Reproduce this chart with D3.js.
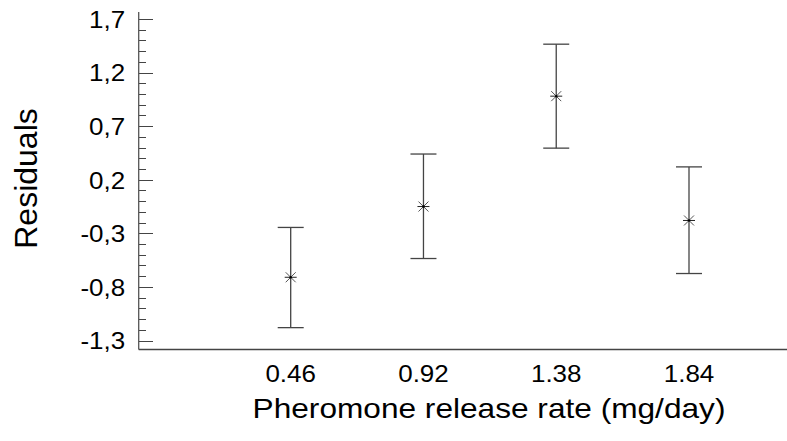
<!DOCTYPE html>
<html>
<head>
<meta charset="utf-8">
<script src="https://cdn.jsdelivr.net/npm/d3@7/dist/d3.min.js"></script>
<style>
  html, body { margin: 0; padding: 0; background: #fff; }
  svg { display: block; font-family: "Liberation Sans", Arial, sans-serif; }
</style>
</head>
<body>
<svg id="chart" width="787" height="441"></svg>
<script>
// Release rates (mg/day) and residual means with their error-bar limits
const rates = [0.46, 0.92, 1.38, 1.84];
const residualMean = [-0.71, -0.05, 0.98, -0.18];
const residualLow = [-1.18, -0.535, 0.495, -0.675];
const residualHigh = [-0.245, 0.44, 1.465, 0.32];
const yMajorTicks = [-1.3, -0.8, -0.3, 0.2, 0.7, 1.2, 1.7];
const yTickLabels = ["-1,3", "-0,8", "-0,3", "0,2", "0,7", "1,2", "1,7"];
const xTickLabels = ["0.46", "0.92", "1.38", "1.84"];

const svg = d3.select("#chart");
const textStretch = 1.13;

const x = d3.scaleLinear().domain([0.46, 1.84]).range([290.7, 689]);
const y = d3.scaleLinear().domain([-1.3, 1.7]).range([340.5, 19]);

const axisLeftX = 138.7;
const axisBottomY = 349.5;

// minor ticks every 0.1
const minorTicks = d3.range(-13, 18).map(i => +(i / 10).toFixed(1))
  .filter(v => !yMajorTicks.some(m => Math.abs(m - v) < 1e-9));

const gy = svg.append("g").attr("transform", `translate(${axisLeftX},0)`);
gy.append("g")
  .call(d3.axisLeft(y).tickValues(minorTicks).tickSizeInner(-7).tickSizeOuter(0).tickFormat(""))
  .call(g => g.select(".domain").remove());
const major = gy.append("g")
  .call(d3.axisLeft(y).tickValues(yMajorTicks).tickSizeInner(-14).tickSizeOuter(0)
    .tickFormat((d, i) => yTickLabels[i]))
  .call(g => g.select(".domain").remove());
gy.selectAll(".tick line").attr("stroke", "#444").attr("shape-rendering", "crispEdges");
major.selectAll(".tick text")
  .attr("x", null).attr("dy", null)
  .attr("transform", `translate(-13.5,8.3) scale(${textStretch},1)`)
  .attr("text-anchor", "end")
  .attr("font-size", 23)
  .attr("font-family", "Liberation Sans, Arial, sans-serif")
  .attr("fill", "#000");

// axis lines
svg.append("line")
  .attr("x1", axisLeftX).attr("x2", axisLeftX)
  .attr("y1", 12).attr("y2", axisBottomY)
  .attr("stroke", "#555").attr("stroke-width", 1.3);
svg.append("line")
  .attr("x1", axisLeftX).attr("x2", 787)
  .attr("y1", axisBottomY).attr("y2", axisBottomY)
  .attr("stroke", "#444").attr("stroke-width", 1.5);

// x tick labels
svg.append("g").selectAll("text")
  .data(rates)
  .join("text")
  .attr("transform", d => `translate(${x(d)},382) scale(${textStretch},1)`)
  .attr("text-anchor", "middle")
  .attr("font-size", 23)
  .attr("fill", "#000")
  .text((d, i) => xTickLabels[i]);

// axis titles
svg.append("text")
  .attr("transform", `translate(489,418) scale(${textStretch},1)`)
  .attr("text-anchor", "middle")
  .attr("font-size", 28)
  .attr("fill", "#000")
  .text("Pheromone release rate (mg/day)");

svg.append("text")
  .attr("transform", "translate(37,178.5) rotate(-90)")
  .attr("text-anchor", "middle")
  .attr("font-size", 32)
  .attr("fill", "#000")
  .text("Residuals");

// error bars
const bars = svg.append("g").attr("stroke", "#444").attr("stroke-width", 1.3).attr("fill", "none");
const capHalf = 13;
rates.forEach((r, i) => {
  const cx = x(r);
  bars.append("line").attr("x1", cx).attr("x2", cx)
    .attr("y1", y(residualHigh[i])).attr("y2", y(residualLow[i]));
  bars.append("line").attr("x1", cx - capHalf).attr("x2", cx + capHalf)
    .attr("y1", y(residualHigh[i])).attr("y2", y(residualHigh[i]));
  bars.append("line").attr("x1", cx - capHalf).attr("x2", cx + capHalf)
    .attr("y1", y(residualLow[i])).attr("y2", y(residualLow[i]));
});

// asterisk markers at the means
const marks = svg.append("g").selectAll("g")
  .data(rates)
  .join("g")
  .attr("transform", (d, i) => `translate(${x(d)},${y(residualMean[i])})`)
  .attr("stroke", "#555").attr("stroke-width", 1);
marks.append("line").attr("x1", -6).attr("x2", 6).attr("y1", 0).attr("y2", 0).attr("stroke", "#222");
marks.append("line").attr("x1", -5).attr("x2", 5).attr("y1", -5).attr("y2", 5);
marks.append("line").attr("x1", -5).attr("x2", 5).attr("y1", 5).attr("y2", -5);
marks.append("circle").attr("r", 1.2).attr("fill", "#000").attr("stroke", "none");
</script>
</body>
</html>
